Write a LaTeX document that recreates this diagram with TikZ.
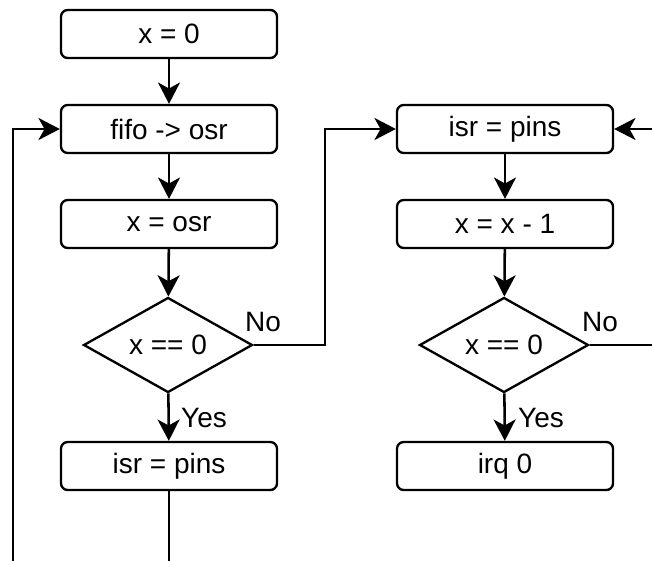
\documentclass[tikz,border=0pt]{standalone}
\usepackage{fontspec}
\setmainfont{Liberation Sans}
\usetikzlibrary{shapes.geometric,arrows.meta}
\begin{document}
\begin{tikzpicture}[x=0.75pt,y=-0.75pt,
  every node/.style={font=\fontsize{21}{25}\selectfont},
  procbox/.style={draw,line width=1.75pt,rounded corners=5pt,minimum width=162pt,minimum height=36pt,inner sep=0pt},
  decbox/.style={draw,line width=1.75pt,diamond,aspect=1.78,minimum width=126.75pt,minimum height=71.25pt,inner sep=0pt},
  conn/.style={line width=1.9pt,-{Stealth[length=16pt,width=16.5pt,inset=4.5pt]}},
  lbl/.style={inner sep=0pt}]
\useasboundingbox (0,0) rectangle (652,560);
\clip (0,0) rectangle (652,560);
\node[procbox] (a) at (169,34) {x = 0};
\node[procbox] (b) at (169,129) {fifo -> osr};
\node[procbox] (c) at (169,224) {x = osr};
\node[decbox] (d) at (168,345) {x == 0};
\node[procbox] (e) at (169,466) {isr = pins};
\node[procbox] (f) at (505,129) {isr = pins};
\node[procbox] (g) at (505,224) {x = x - 1};
\node[decbox] (h) at (504,345) {x == 0};
\node[procbox] (i) at (505,466) {irq 0};
\coordinate (lb) at (13,580);
\coordinate (rt) at (665,345);
\draw[conn] (a) -- (b);
\draw[conn] (b) -- (c);
\draw[conn] (c) -- (d);
\draw[conn] (d) -- (e);
\draw[conn] (d.east) -- (325,345) -- (325,129) -- (f.west);
\draw[conn] (e.south) |- (lb) |- (b.west);
\draw[conn] (f) -- (g);
\draw[conn] (g) -- (h);
\draw[conn] (h) -- (i);
\draw[conn] (h.east) -- (rt) |- (f.east);
\node[lbl] (no1) at (263,322) {No};
\node[lbl] (yes1) at (204,418) {Yes};
\node[lbl] (no2) at (600,322) {No};
\node[lbl] (yes2) at (541,418) {Yes};
\end{tikzpicture}
\end{document}
